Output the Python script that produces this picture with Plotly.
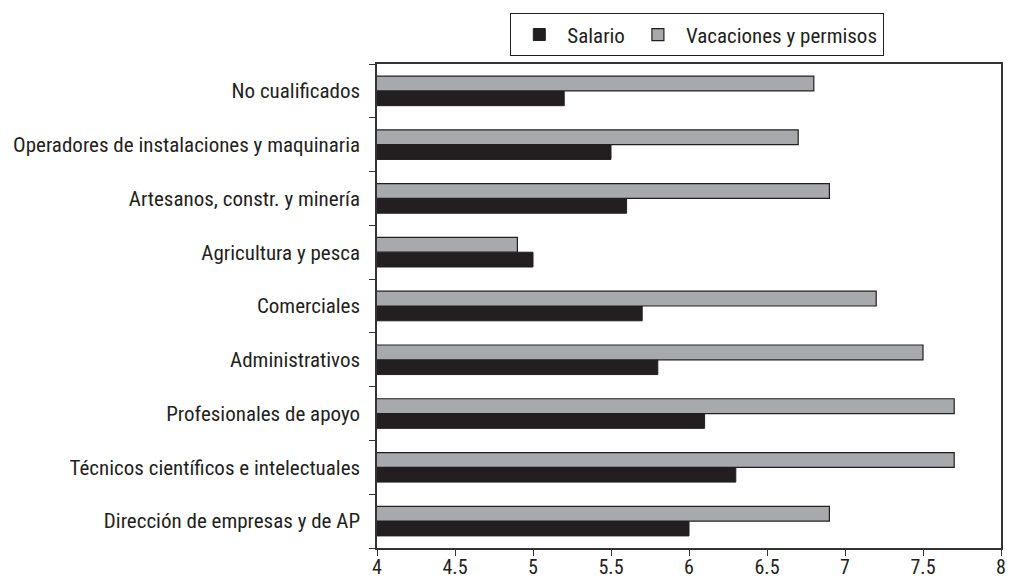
import plotly.graph_objects as go

# categories from bottom to top
categorias = [
    "Dirección de empresas y de AP",
    "Técnicos científicos e intelectuales",
    "Profesionales de apoyo",
    "Administrativos",
    "Comerciales",
    "Agricultura y pesca",
    "Artesanos, constr. y minería",
    "Operadores de instalaciones y maquinaria",
    "No cualificados",
]
salario = [6.0, 6.3, 6.1, 5.8, 5.7, 5.0, 5.6, 5.5, 5.2]
vacaciones = [6.9, 7.7, 7.7, 7.5, 7.2, 4.9, 6.9, 6.7, 6.8]
x_ticks = [4, 4.5, 5, 5.5, 6, 6.5, 7, 7.5, 8]

FONT = "Liberation Sans Narrow, Arial Narrow, Roboto Condensed, sans-serif"
DARK = "#231f20"
GREY = "#a7a9ac"

fig = go.Figure()
fig.add_trace(
    go.Bar(
        y=categorias,
        x=salario,
        orientation="h",
        name="Salario",
        marker=dict(color=DARK, line=dict(color=DARK, width=1)),
    )
)
fig.add_trace(
    go.Bar(
        y=categorias,
        x=vacaciones,
        orientation="h",
        name="Vacaciones y permisos",
        marker=dict(color=GREY, line=dict(color=DARK, width=1.2)),
    )
)

# page body has an 8px margin: keep the figure inside the window
fig.update_layout(
    width=999,
    height=571,
    barmode="group",
    bargap=0.45,
    bargroupgap=0,
    plot_bgcolor="white",
    paper_bgcolor="white",
    font=dict(family=FONT, size=21, color=DARK),
    margin=dict(l=369, r=6, t=56, b=31, pad=0, autoexpand=False),
    legend=dict(
        orientation="h",
        x=0.513,
        xanchor="center",
        y=1.105,
        yanchor="top",
        traceorder="normal",
        itemwidth=46,
        bordercolor=DARK,
        borderwidth=1.2,
        bgcolor="white",
        font=dict(family=FONT, size=21, color=DARK),
    ),
    showlegend=True,
)

fig.update_xaxes(
    range=[4, 8],
    tickvals=x_ticks,
    ticktext=[str(t) for t in x_ticks],
    ticks="outside",
    ticklen=6,
    tickcolor="#333333",
    tickfont=dict(size=20),
    ticklabelstandoff=-6,
    ticklabeloverflow="allow",
    showline=True,
    linecolor="#333333",
    linewidth=1.5,
    mirror=True,
    showgrid=False,
    zeroline=False,
    automargin=False,
)
fig.update_yaxes(
    categoryorder="array",
    categoryarray=categorias,
    tickson="boundaries",
    ticks="outside",
    ticklen=6,
    tickcolor="#333333",
    showline=True,
    linecolor="#333333",
    linewidth=1.5,
    mirror=True,
    showgrid=False,
    ticklabelstandoff=11,
    automargin=False,
)

fig.write_html("out.html")
